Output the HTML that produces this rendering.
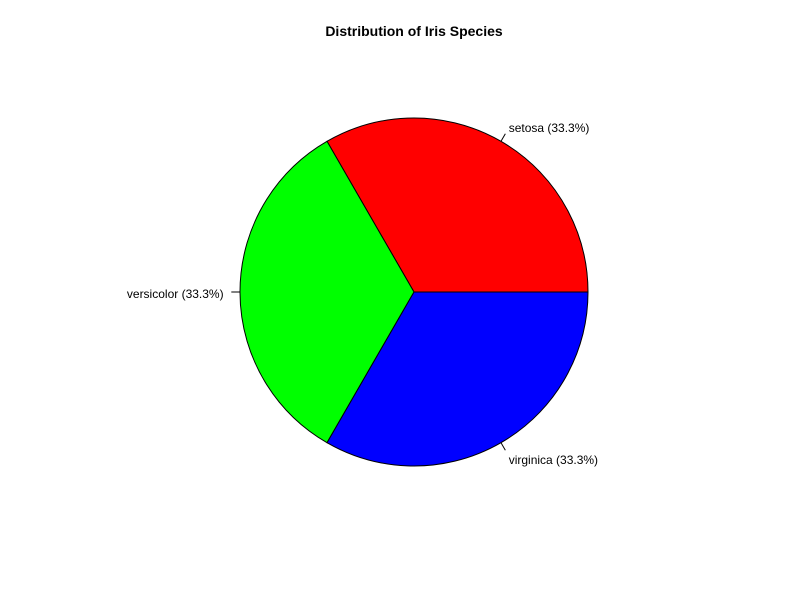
<!DOCTYPE html>
<html><head><meta charset="utf-8"><style>body{margin:0;background:#fff}svg{display:block}</style></head>
<body>
<svg width="800" height="600" font-family="Liberation Sans, Arial, sans-serif">
<rect width="800" height="600" fill="#fff"/>
<text x="414" y="36" text-anchor="middle" font-size="14" font-weight="bold">Distribution of Iris Species</text>
<g id="slices"></g>
</svg>
<script>
const categories = ["setosa","versicolor","virginica"];
const values = [50,50,50];
const colors = ["#ff0000","#00ff00","#0000ff"];
const cx=414, cy=292, r=174;
const g=document.getElementById('slices');
const ns='http://www.w3.org/2000/svg';
const total=values.reduce((a,b)=>a+b,0);
let a0=0;
values.forEach((v,i)=>{
  const a1=a0+v/total*2*Math.PI;
  const x0=cx+r*Math.cos(a0), y0=cy-r*Math.sin(a0);
  const x1=cx+r*Math.cos(a1), y1=cy-r*Math.sin(a1);
  const large=(a1-a0)>Math.PI?1:0;
  const p=document.createElementNS(ns,'path');
  p.setAttribute('d',`M${cx},${cy} L${x0},${y0} A${r},${r} 0 ${large} 0 ${x1},${y1} Z`);
  p.setAttribute('fill',colors[i]);p.setAttribute('stroke','#000');p.setAttribute('stroke-width','1');
  
  
  g.appendChild(p);
  const am=(a0+a1)/2, c=Math.cos(am), s=Math.sin(am);
  const l=document.createElementNS(ns,'line');
  l.setAttribute('x1',cx+r*c);l.setAttribute('y1',cy-r*s);
  l.setAttribute('x2',cx+r*1.05*c);l.setAttribute('y2',cy-r*1.05*s);
  l.setAttribute('stroke','#000');
  
  
  g.appendChild(l);
  const t=document.createElementNS(ns,'text');
  const tx=cx+r*1.1*c, ty=cy-r*1.1*s;
  t.setAttribute('x',c>=0?tx-1:tx+1);t.setAttribute('y',ty+6);
  t.setAttribute('text-anchor',c>=0?'start':'end');t.setAttribute('font-size','12');
  t.textContent=categories[i]+' ('+(v/total*100).toFixed(1)+'%)';
  
  
  g.appendChild(t);
  a0=a1;
});
</script>
</body></html>
